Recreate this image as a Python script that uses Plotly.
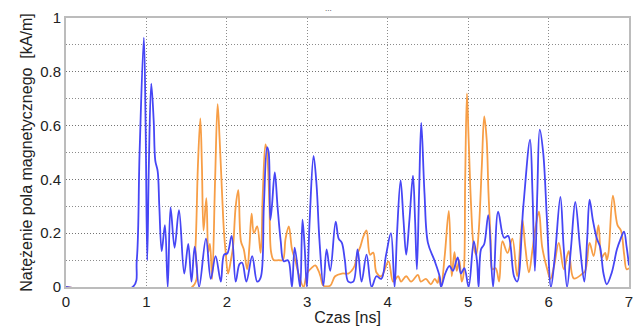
import plotly.graph_objects as go

# Blue series (time [ns], field [kA/m])
blue_x = [0.0, 0.83, 0.88, 0.915, 0.968, 0.99, 1.01, 1.03, 1.06, 1.09, 1.11, 1.14, 1.16, 1.19, 1.23, 1.265,
          1.30, 1.35, 1.405, 1.47, 1.52, 1.56, 1.60, 1.655, 1.74, 1.80, 1.86, 1.925, 1.965, 2.006, 2.06,
          2.11, 2.157, 2.19, 2.243, 2.315, 2.377, 2.42, 2.46, 2.50, 2.52, 2.54, 2.56, 2.596, 2.63, 2.67,
          2.707, 2.756, 2.775, 2.81, 2.843, 2.90, 2.913, 2.94, 2.967, 2.995, 3.03, 3.078, 3.115, 3.15,
          3.20, 3.24, 3.285, 3.353, 3.39, 3.43, 3.467, 3.51, 3.572, 3.625, 3.675, 3.737, 3.80, 3.86, 3.92,
          3.98, 4.04, 4.085, 4.116, 4.16, 4.196, 4.23, 4.27, 4.314, 4.34, 4.363, 4.39, 4.417, 4.457, 4.50,
          4.58, 4.645, 4.664, 4.715, 4.768, 4.81, 4.87, 4.91, 4.953, 5.006, 5.07, 5.11, 5.13, 5.16, 5.20,
          5.25, 5.31, 5.373, 5.447, 5.497, 5.57, 5.61, 5.686, 5.77, 5.80, 5.83, 5.86, 5.89, 5.933, 5.98,
          6.03, 6.08, 6.147, 6.187, 6.23, 6.28, 6.332, 6.39, 6.444, 6.48, 6.51, 6.55, 6.60, 6.64, 6.683,
          6.724, 6.786, 6.85, 6.897, 6.938, 6.97, 7.0]
blue_y = [0.0, 0.0, 0.10, 0.50, 0.927, 0.60, 0.10, 0.45, 0.756, 0.62, 0.47, 0.43, 0.30, 0.133, 0.23, 0.0,
          0.296, 0.146, 0.286, 0.05, 0.16, 0.02, 0.15, 0.0, 0.18, 0.03, 0.115, 0.02, 0.12, 0.125, 0.19,
          0.02, 0.085, 0.09, 0.02, 0.115, 0.02, 0.035, 0.30, 0.52, 0.50, 0.25, 0.30, 0.426, 0.30, 0.17,
          0.096, 0.10, 0.09, 0.0, 0.146, 0.02, 0.0, 0.25, 0.15, 0.0, 0.25, 0.487, 0.38, 0.18,
          0.005, 0.14, 0.06, 0.243, 0.18, 0.164, 0.10, 0.02, 0.02, 0.14, 0.02, 0.12, 0.0, 0.04, 0.03,
          0.12, 0.20, 0.0, 0.20, 0.396, 0.25, 0.12, 0.25, 0.414, 0.25, 0.066, 0.35, 0.61, 0.35, 0.164,
          0.10, 0.04, 0.0, 0.05, 0.078, 0.06, 0.11, 0.05, 0.07, 0.0, 0.17, 0.096, 0.0, 0.14, 0.16,
          0.267, 0.0, 0.28, 0.183, 0.19, 0.04, 0.02, 0.30, 0.548, 0.35, 0.06, 0.35, 0.585, 0.50, 0.25,
          0.0, 0.12, 0.335, 0.15, 0.0, 0.15, 0.316, 0.15, 0.02, 0.18, 0.325, 0.25, 0.18, 0.15, 0.05,
          0.01, 0.054, 0.14, 0.18, 0.206, 0.15, 0.08]

# Orange series
orange_x = [0.0, 1.57, 1.61, 1.64, 1.67, 1.69, 1.71, 1.745, 1.77, 1.79, 1.817, 1.854, 1.885, 1.91, 1.94,
            1.965, 1.986, 2.015, 2.05, 2.077, 2.11, 2.142, 2.175, 2.21, 2.253, 2.28, 2.308, 2.336, 2.377,
            2.42, 2.447, 2.48, 2.50, 2.53, 2.55, 2.583, 2.645, 2.695, 2.73, 2.77, 2.81, 2.85, 2.89, 2.954,
            2.995, 3.057, 3.10, 3.14, 3.164, 3.20, 3.284, 3.346, 3.43, 3.51, 3.55, 3.59, 3.62, 3.66, 3.70,
            3.737, 3.78, 3.82, 3.86, 3.92, 4.01, 4.067, 4.13, 4.166, 4.23, 4.29, 4.376, 4.41, 4.475, 4.536,
            4.586, 4.62, 4.64, 4.664, 4.71, 4.76, 4.796, 4.83, 4.858, 4.89, 4.92, 4.944, 4.963, 4.985,
            5.006, 5.037, 5.07, 5.10, 5.13, 5.17, 5.20, 5.23, 5.253, 5.28, 5.30, 5.343, 5.385, 5.426,
            5.49, 5.55, 5.61, 5.674, 5.71, 5.756, 5.80, 5.84, 5.88, 5.92, 5.983, 6.023, 6.07, 6.127, 6.19,
            6.25, 6.313, 6.415, 6.456, 6.51, 6.56, 6.62, 6.66, 6.703, 6.724, 6.745, 6.80, 6.857, 6.90,
            6.94, 6.97, 7.0]
orange_y = [0.0, 0.0, 0.15, 0.45, 0.627, 0.45, 0.21, 0.33, 0.13, 0.16, 0.03, 0.40, 0.68, 0.55, 0.35,
            0.20, 0.127, 0.05, 0.10, 0.15, 0.30, 0.36, 0.17, 0.14, 0.066, 0.15, 0.273, 0.20, 0.225,
            0.127, 0.35, 0.53, 0.50, 0.30, 0.13, 0.10, 0.10, 0.10, 0.18, 0.225, 0.14, 0.10, 0.05, 0.0,
            0.05, 0.072, 0.08, 0.06, 0.04, 0.005, 0.005, 0.04, 0.05, 0.05, 0.06, 0.08, 0.12, 0.15, 0.19,
            0.21, 0.12, 0.128, 0.054, 0.04, 0.095, 0.02, 0.04, 0.02, 0.04, 0.02, 0.045, 0.02, 0.03, 0.01,
            0.03, 0.015, 0.04, 0.0, 0.12, 0.283, 0.04, 0.13, 0.06, 0.10, 0.02, 0.05, 0.40, 0.72,
            0.55, 0.30, 0.15, 0.12, 0.20, 0.45, 0.634, 0.55, 0.35, 0.176, 0.066, 0.07, 0.02, 0.17,
            0.127, 0.18, 0.04, 0.25, 0.15, 0.054, 0.14, 0.225, 0.28, 0.15, 0.066, 0.03, 0.08, 0.164, 0.066,
            0.133, 0.032, 0.048, 0.06, 0.164, 0.115, 0.23, 0.11, 0.127, 0.10, 0.127, 0.34, 0.23, 0.21,
            0.12, 0.066, 0.07]

y_ticks = [0, 0.2, 0.4, 0.6, 0.8, 1]
y_tick_labels = ["0", "0.2", "0.4", "0.6", "0.8", "1"]
x_ticks = [0, 1, 2, 3, 4, 5, 6, 7]

BLUE = "rgb(70,70,245)"
ORANGE = "rgb(247,158,70)"
GRID = "rgba(110,110,110,0.8)"

fig = go.Figure()
fig.add_trace(go.Scatter(x=orange_x, y=orange_y, mode="lines",
                         line=dict(color=ORANGE, width=1.8, shape="spline", smoothing=1.0),
                         showlegend=False))
fig.add_trace(go.Scatter(x=blue_x, y=blue_y, mode="lines",
                         line=dict(color=BLUE, width=1.8, shape="spline", smoothing=1.0),
                         showlegend=False))

font_family = "Liberation Sans, Arial, sans-serif"

fig.update_layout(
    width=642, height=333,
    margin=dict(l=66, r=9, t=15, b=45),
    paper_bgcolor="white", plot_bgcolor="white",
    font=dict(family=font_family, color="#222", size=14),
    xaxis=dict(range=[0, 7], tickvals=x_ticks, ticks="", showgrid=True,
               gridcolor=GRID, griddash="1px,2px", gridwidth=1,
               showline=True, linecolor="#bcbcbc", linewidth=2, mirror=True,
               zeroline=False, tickfont=dict(size=15, color="#222"),
               title=dict(text="Czas [ns]", font=dict(size=16, color="#222"), standoff=3)),
    yaxis=dict(range=[0, 1], tickvals=y_ticks, ticktext=y_tick_labels, ticks="",
               showgrid=True, gridcolor=GRID, griddash="1px,2px", gridwidth=1,
               minor=dict(dtick=0.1, showgrid=True, gridcolor=GRID, griddash="1px,2px"),
               showline=True, linecolor="#bcbcbc", linewidth=2, mirror=True,
               zeroline=False, tickfont=dict(size=15, color="#222"),
               title=dict(text="Natężenie pola magnetycznego&nbsp; [kA/m]",
                          font=dict(size=16, color="#222"), standoff=4)),
)
fig.add_annotation(text="...", x=(330 - 66) / 567, y=(288 - 5) / 273, xref="paper", yref="paper",
                   showarrow=False, font=dict(size=8, color="#333"), xanchor="center", yanchor="middle")

fig.write_html("out.html")
